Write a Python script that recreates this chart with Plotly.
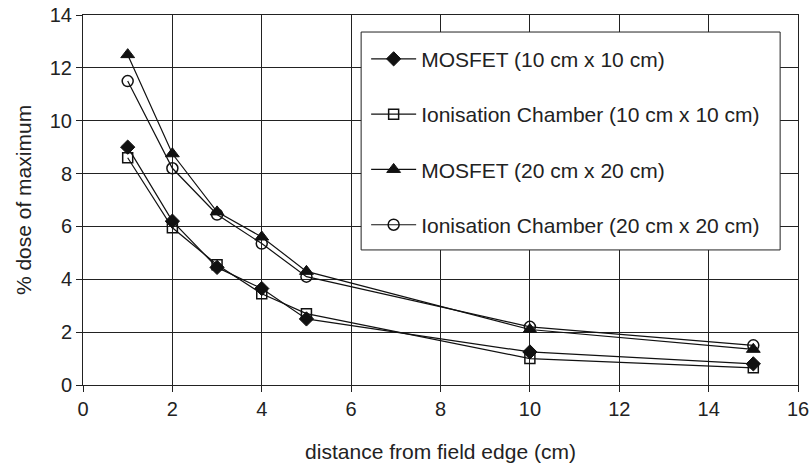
import plotly.graph_objects as go

distance_cm = [1, 2, 3, 4, 5, 10, 15]
mosfet_10 = [9.0, 6.2, 4.45, 3.65, 2.5, 1.25, 0.8]
ion_10 = [8.6, 5.95, 4.55, 3.45, 2.7, 1.0, 0.65]
mosfet_20 = [12.5, 8.75, 6.55, 5.6, 4.3, 2.1, 1.35]
ion_20 = [11.5, 8.2, 6.45, 5.35, 4.1, 2.2, 1.5]

series_names = [
    "MOSFET (10 cm x 10 cm)",
    "Ionisation Chamber (10 cm x 10 cm)",
    "MOSFET (20 cm x 20 cm)",
    "Ionisation Chamber (20 cm x 20 cm)",
]
x_ticks = [0, 2, 4, 6, 8, 10, 12, 14, 16]
y_ticks = [0, 2, 4, 6, 8, 10, 12, 14]

FONT = "Liberation Sans, Arial, sans-serif"
INK = "#111111"

styles = [
    dict(symbol="diamond", size=11, color=INK, line=dict(color=INK, width=1)),
    dict(symbol="square-open", size=10, color=INK, line=dict(color=INK, width=1.5)),
    dict(symbol="triangle-up", size=12, color=INK, line=dict(color=INK, width=1)),
    dict(symbol="circle-open", size=11, color=INK, line=dict(color=INK, width=1.5)),
]

fig = go.Figure()
for i, (name, ys) in enumerate(zip(series_names, [mosfet_10, ion_10, mosfet_20, ion_20])):
    fig.add_trace(go.Scatter(
        x=distance_cm, y=ys, name=name, mode="lines+markers",
        line=dict(color=INK, width=1.2),
        marker=styles[i],
        legendgroup=f"g{i}",
    ))

axis_common = dict(
    showgrid=True, gridcolor="#222222", gridwidth=1,
    showline=True, linecolor="#222222", linewidth=1, mirror=True,
    ticks="outside", ticklen=6, tickcolor="#222222", tickwidth=1,
    zeroline=False, automargin=False,
    tickfont=dict(family=FONT, size=20, color="#222222"),
)

# legend frame (white box with border) drawn as a shape, legend itself borderless
fig.add_shape(type="rect", xref="paper", yref="paper",
              x0=0.389, x1=0.975, y0=0.365, y1=0.954,
              fillcolor="white", line=dict(color="#222222", width=1),
              layer="above")

fig.update_layout(
    width=810, height=467,
    margin=dict(l=83, r=12, t=15, b=82),
    paper_bgcolor="white", plot_bgcolor="white",
    font=dict(family=FONT, color="#222222"),
    showlegend=True,
    legend=dict(
        x=0.396, y=0.936, xanchor="left", yanchor="top",
        bgcolor="rgba(0,0,0,0)", borderwidth=0,
        font=dict(family=FONT, size=21, color="#222222"),
        tracegroupgap=25, traceorder="grouped", itemwidth=45,
    ),
    xaxis=dict(range=[0, 16], tickvals=x_ticks,
               title=dict(text="distance from field edge (cm)", standoff=25,
                          font=dict(family=FONT, size=21, color="#222222")),
               **axis_common),
    yaxis=dict(range=[0, 14], tickvals=y_ticks,
               title=dict(text="% dose of maximum", standoff=12,
                          font=dict(family=FONT, size=21, color="#222222")),
               **axis_common),
)

fig.write_html(
    "out.html",
    config={"displayModeBar": False},
    post_script="document.body.style.margin='0px';document.body.style.overflow='hidden';",
)
